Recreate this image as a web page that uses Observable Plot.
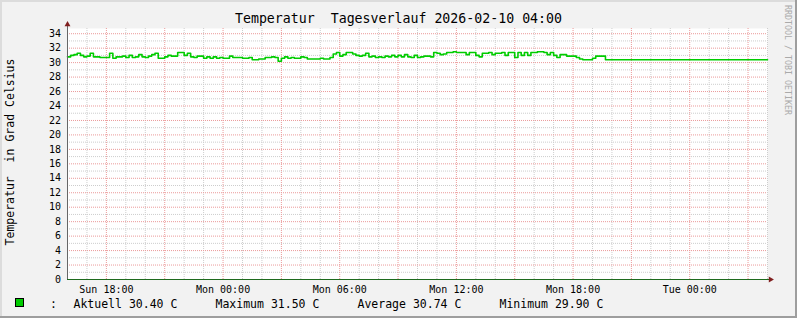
<!DOCTYPE html>
<html>
<head>
<meta charset="utf-8">
<script src="https://cdn.jsdelivr.net/npm/d3@7"></script>
<script src="https://cdn.jsdelivr.net/npm/@observablehq/plot@0.6"></script>
<style>
  body { margin: 0; background: #f2f2f2; }
  #wrap {
    position: relative; width: 797px; height: 318px; background: #f2f2f2;
    box-shadow: inset -2px -2px 0 #9e9e9e, inset 2px 2px 0 #dcdcdc;
    overflow: hidden; font-family: "DejaVu Sans Mono", monospace; color: #000;
  }
  #chart { position: absolute; left: 0; top: 0; }
  .abs { position: absolute; white-space: pre; }
  #title { top: 11px; left: 0; width: 797px; text-align: center; font-size: 13.25px; line-height: 16px; }
  #ylabel { left: 11px; top: 151.5px; width: 260px; text-align: center; font-size: 11.5px; line-height: 13.4px;
            transform: translate(-50%, -50%) rotate(-90deg); }
  #wm { left: 788px; top: 60px; width: 130px; text-align: center; font-size: 8.3px; line-height: 10px; color: #aaaaaa;
        transform: translate(-50%, -50%) rotate(90deg); }
  .leg { top: 297px; font-size: 11.5px; line-height: 14px; }
  #swatch { position: absolute; left: 15px; top: 298px; width: 9px; height: 9px; box-sizing: border-box;
            background: #00cc00; border: 1px solid #000; }
</style>
</head>
<body>
<div id="wrap">
  <div id="chart"></div>
  <div id="title" class="abs"></div>
  <div id="ylabel" class="abs"></div>
  <div id="wm" class="abs"></div>
  <div id="swatch"></div>
  <div id="legend"></div>
</div>
<script>
// ---------- data ----------
const titleText = "Temperatur  Tagesverlauf 2026-02-10 04:00";
const yLabelText = "Temperatur  in Grad Celsius";
const watermarkText = "RRDTOOL / TOBI OETIKER";

const startTime = "2026-02-08T16:00:00Z";   // Sun 16:00
const endTime = "2026-02-10T04:00:00Z";     // Tue 04:00
const stepMinutes = 10;

// temperature (°C), one value per 10-minute step from Sun 16:00
const temps = [
  30.8,31.0,31.1,31.3,31.0,30.8,30.9,31.3,30.8,30.8,
  30.7,30.7,30.7,31.3,30.6,30.8,30.8,30.9,30.7,31.0,
  30.7,30.8,31.1,30.8,30.7,30.9,31.1,31.3,30.6,30.6,
  30.8,31.0,30.9,30.9,31.4,31.4,31.0,31.3,30.8,30.7,
  30.9,30.9,30.6,30.8,30.6,30.8,30.6,30.7,30.6,30.6,
  30.9,30.7,30.7,30.7,30.6,30.6,30.7,30.4,30.4,30.5,
  30.5,30.7,30.7,30.8,30.7,30.2,30.6,30.8,30.6,30.7,
  30.6,30.6,30.8,30.7,30.5,30.5,30.5,30.5,30.6,30.5,
  30.5,30.7,31.2,31.4,30.9,31.1,31.4,31.4,31.2,31.0,
  30.9,31.0,31.3,30.8,30.9,30.7,30.8,30.7,30.9,30.8,
  31.0,30.8,31.0,30.8,31.1,30.8,30.7,31.0,30.7,30.8,
  30.9,30.9,30.8,31.4,31.3,31.1,31.2,31.4,31.4,31.5,
  31.4,31.4,31.4,31.1,31.4,31.4,31.0,30.8,31.3,31.3,
  31.4,31.1,31.3,31.3,31.4,31.0,31.4,31.4,30.7,31.4,
  31.0,31.4,31.0,31.4,31.4,31.5,31.5,31.4,31.1,31.4,
  31.0,30.7,31.1,31.1,30.9,30.9,30.9,30.7,30.5,30.4,
  30.4,30.4,30.6,30.9,30.9,30.9
];
// last value held flat until the end of the graph
const tailValue = 30.4;

const xTickTimes = ["2026-02-08T18:00:00Z","2026-02-09T00:00:00Z","2026-02-09T06:00:00Z",
                    "2026-02-09T12:00:00Z","2026-02-09T18:00:00Z","2026-02-10T00:00:00Z"];
const xTickLabels = ["Sun 18:00","Mon 00:00","Mon 06:00","Mon 12:00","Mon 18:00","Tue 00:00"];
const yTicks = [0,2,4,6,8,10,12,14,16,18,20,22,24,26,28,30,32,34];
const yMax = 34.72;

const legendSep = ":";
const legendItems = ["Aktuell 30.40 C", "Maximum 31.50 C", "Average 30.74 C", "Minimum 29.90 C"];

// ---------- build ----------
const t0 = new Date(startTime);
const tEnd = new Date(endTime);
const series = temps.map((v, i) => ({t: new Date(+t0 + i * stepMinutes * 60000), v}));
const tailStart = new Date(+t0 + temps.length * stepMinutes * 60000);
series.push({t: tailStart, v: tailValue}, {t: tEnd, v: tailValue});

const tickDates = xTickTimes.map(s => new Date(s));
const hours = d3.utcHour.range(t0, new Date(+tEnd + 1));
const majorHours = hours.filter(d => d.getUTCHours() % 3 === 0);
const minorHours = hours.filter(d => d.getUTCHours() % 3 !== 0);
const yAll = d3.range(0, 35, 1);
const yMajor = yAll.filter(d => d % 2 === 0);
const yMinor = yAll.filter(d => d % 2 !== 0);

const gridMinor = "#cdcdcd";
const gridMajor = "#eb9a9a";
const font = "DejaVu Sans Mono";

const chart = Plot.plot({
  width: 797,
  height: 300,
  marginLeft: 67,
  marginRight: 30,
  marginTop: 28,
  marginBottom: 21,
  style: {background: "transparent", overflow: "visible", fontFamily: font},
  x: {type: "utc", domain: [t0, tEnd]},
  y: {domain: [0, yMax]},
  marks: [
    Plot.frame({fill: "white", stroke: null}),
    Plot.ruleX(minorHours, {stroke: gridMinor, strokeDasharray: "1,1"}),
    Plot.ruleY(yMinor, {stroke: gridMinor, strokeDasharray: "1,1"}),
    Plot.ruleX(majorHours, {stroke: gridMajor, strokeDasharray: "1,1"}),
    Plot.ruleY(yMajor, {stroke: gridMajor, strokeDasharray: "1,1"}),
    Plot.line(series, {x: "t", y: "v", curve: "step-after", stroke: "#00cc00", strokeWidth: 1.6}),
    Plot.ruleX([t0], {stroke: "#666666", insetTop: -4}),
    Plot.ruleY([0], {stroke: "#1d6a1d", insetRight: -2}),
    Plot.dot([t0], {x: d => d, y: yMax, dy: -4, symbol: "triangle", r: 2.2, fill: "#801f1f", stroke: null}),
    Plot.dot([tEnd], {x: d => d, y: 0, dx: 3, symbol: "triangle", r: 2.2, fill: "#801f1f", stroke: null, rotate: 90}),
    Plot.axisX({anchor: "bottom", ticks: tickDates, tickSize: 0, tickPadding: 6, fontSize: 10, fontFamily: font, fill: "#000",
      label: null, tickFormat: d => xTickLabels[tickDates.findIndex(t => +t === +d)]}),
    Plot.axisY({anchor: "left", ticks: yTicks, tickSize: 0, tickPadding: 6.5, fontSize: 10, fontFamily: font, fill: "#000",
      label: null})
  ]
});
document.getElementById("chart").appendChild(chart);

document.getElementById("title").textContent = titleText;
document.getElementById("ylabel").textContent = yLabelText;
document.getElementById("wm").textContent = watermarkText;

const legendLefts = [73.5, 215.5, 357.5, 499.5];
const legend = document.getElementById("legend");
const sep = document.createElement("div");
sep.className = "abs leg";
sep.style.left = "50px";
sep.textContent = legendSep;
legend.appendChild(sep);
legendItems.forEach((txt, i) => {
  const el = document.createElement("div");
  el.className = "abs leg";
  el.style.left = legendLefts[i] + "px";
  el.textContent = txt;
  legend.appendChild(el);
});
</script>
</body>
</html>
